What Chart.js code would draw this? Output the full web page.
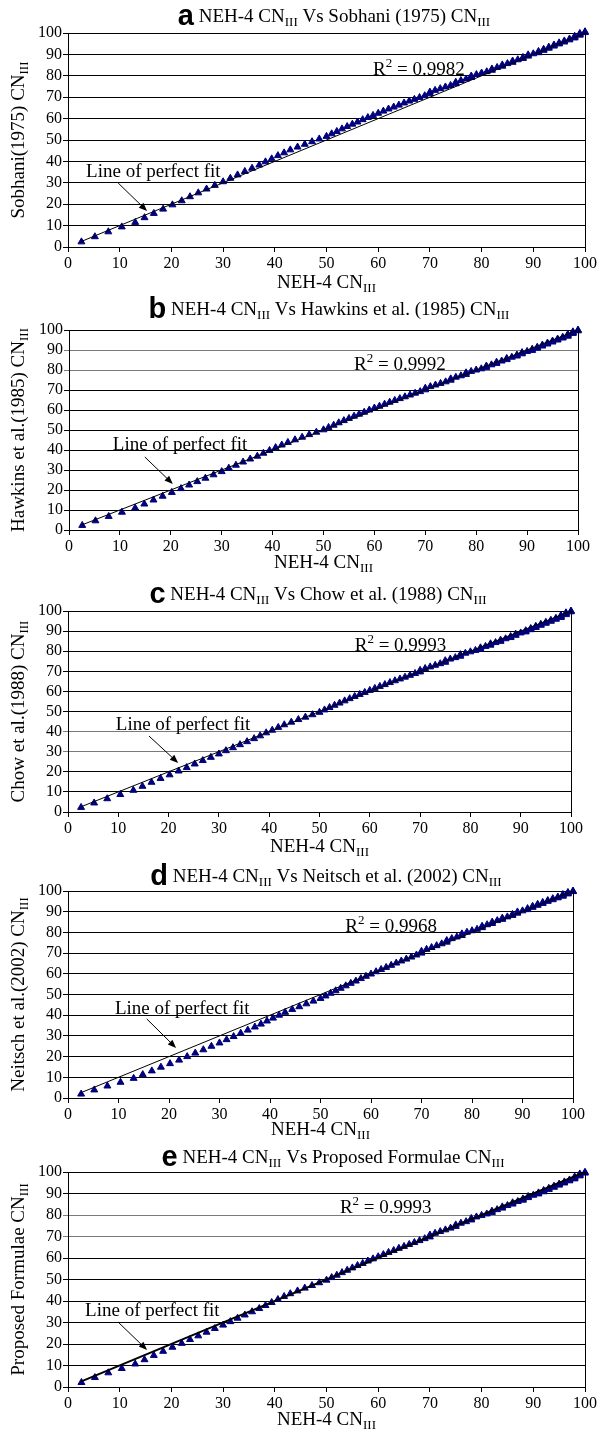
<!DOCTYPE html>
<html>
<head>
<meta charset="utf-8">
<title>NEH-4 CN III comparisons</title>
<script src="https://cdn.jsdelivr.net/npm/chart.js@4.4.0/dist/chart.umd.min.js"></script>
<style>
  html, body { margin: 0; padding: 0; background: #fff; }
  #page { position: relative; width: 605px; height: 1431px; overflow: hidden; }
  canvas { position: absolute; left: 0; }
</style>
</head>
<body>
<div id="page">
  <canvas id="chartA" width="605" height="292" style="top:0px"></canvas>
  <canvas id="chartB" width="605" height="283" style="top:292px"></canvas>
  <canvas id="chartC" width="605" height="283" style="top:575px"></canvas>
  <canvas id="chartD" width="605" height="284" style="top:858px"></canvas>
  <canvas id="chartE" width="605" height="289" style="top:1142px"></canvas>
</div>
<script>
// NEH-4 CN III (x axis of every panel)
const neh4 = [
  2.6, 5.2, 7.8, 10.4, 13, 14.8, 16.6, 18.4, 20.2, 22,
  23.6, 25.2, 26.8, 28.4, 30, 31.4, 32.8, 34.2, 35.6, 37,
  38.2, 39.4, 40.6, 41.8, 43, 44.4, 45.8, 47.2, 48.6, 50,
  51, 52, 53, 54, 55, 56, 57, 58, 59, 60,
  61, 62, 63, 64, 65, 66, 67, 68, 69, 70,
  70, 71, 72, 73, 74, 75, 75, 76, 77, 78,
  78, 79, 80, 81, 82, 82, 83, 84, 84, 85,
  86, 86, 87, 88, 88, 89, 89, 90, 91, 91,
  92, 92, 93, 93, 94, 94, 95, 95, 96, 96,
  97, 97, 98, 98, 98, 99, 99, 99, 100, 100
];

const sobhani = [
  2.4, 4.8, 7.1, 9.4, 11.5, 13.7, 15.7, 17.7, 19.7, 21.6,
  23.5, 25.3, 27.1, 28.8, 30.5, 32.1, 33.7, 35.3, 36.8, 38.3,
  39.8, 41.2, 42.7, 44.0, 45.4, 46.7, 48.0, 49.2, 50.5, 51.7,
  52.9, 54.0, 55.2, 56.3, 57.4, 58.4, 59.5, 60.5, 61.5, 62.5,
  63.5, 64.5, 65.4, 66.3, 67.3, 68.2, 69.0, 69.9, 70.7, 71.6,
  72.4, 73.2, 74.0, 74.8, 75.5, 76.3, 77.0, 77.8, 78.5, 79.2,
  79.9, 80.6, 81.3, 81.9, 82.6, 83.2, 83.9, 84.5, 85.1, 85.7,
  86.3, 86.9, 87.5, 88.1, 88.6, 89.2, 89.8, 90.3, 90.8, 91.4,
  91.9, 92.4, 92.9, 93.4, 93.9, 94.4, 94.9, 95.4, 95.8, 96.3,
  96.8, 97.2, 97.7, 98.1, 98.5, 99.0, 99.4, 99.8, 100.2, 100.6
];

const hawkins = [
  2.3, 4.6, 6.8, 8.9, 11.0, 13.0, 15.0, 16.9, 18.8, 20.7,
  22.5, 24.2, 25.9, 27.6, 29.2, 30.9, 32.4, 34.0, 35.5, 36.9,
  38.4, 39.8, 41.2, 42.5, 43.8, 45.1, 46.4, 47.7, 48.9, 50.1,
  51.3, 52.4, 53.6, 54.7, 55.8, 56.9, 57.9, 58.9, 60.0, 61.0,
  61.9, 62.9, 63.9, 64.8, 65.7, 66.6, 67.5, 68.4, 69.2, 70.1,
  70.9, 71.7, 72.5, 73.3, 74.1, 74.9, 75.6, 76.4, 77.1, 77.8,
  78.6, 79.3, 80.0, 80.6, 81.3, 82.0, 82.6, 83.3, 83.9, 84.5,
  85.2, 85.8, 86.4, 87.0, 87.5, 88.1, 88.7, 89.3, 89.8, 90.4,
  90.9, 91.4, 92.0, 92.5, 93.0, 93.5, 94.0, 94.5, 95.0, 95.5,
  96.0, 96.4, 96.9, 97.4, 97.8, 98.3, 98.7, 99.1, 99.6, 100.0
];

const chow = [
  2.3, 4.5, 6.6, 8.7, 10.8, 12.8, 14.8, 16.7, 18.5, 20.4,
  22.1, 23.9, 25.6, 27.2, 28.9, 30.5, 32.0, 33.5, 35.0, 36.5,
  37.9, 39.4, 40.7, 42.1, 43.4, 44.7, 46.0, 47.2, 48.4, 49.6,
  50.8, 52.0, 53.1, 54.2, 55.3, 56.4, 57.5, 58.5, 59.5, 60.5,
  61.5, 62.5, 63.4, 64.4, 65.3, 66.2, 67.1, 68.0, 68.9, 69.7,
  70.5, 71.4, 72.2, 73.0, 73.8, 74.5, 75.3, 76.1, 76.8, 77.5,
  78.3, 79.0, 79.7, 80.4, 81.0, 81.7, 82.4, 83.0, 83.7, 84.3,
  84.9, 85.5, 86.2, 86.8, 87.3, 87.9, 88.5, 89.1, 89.6, 90.2,
  90.7, 91.3, 91.8, 92.4, 92.9, 93.4, 93.9, 94.4, 94.9, 95.4,
  95.9, 96.4, 96.8, 97.3, 97.8, 98.2, 98.7, 99.1, 99.6, 100.0
];

const neitsch = [
  1.9, 3.9, 5.8, 7.6, 9.5, 11.3, 13.1, 14.9, 16.6, 18.3,
  20.0, 21.7, 23.3, 25.0, 26.6, 28.2, 29.7, 31.3, 32.8, 34.3,
  35.7, 37.2, 38.6, 40.0, 41.4, 42.8, 44.1, 45.5, 46.8, 48.1,
  49.3, 50.6, 51.8, 53.0, 54.2, 55.4, 56.5, 57.7, 58.8, 59.9,
  61.0, 62.1, 63.1, 64.1, 65.2, 66.2, 67.1, 68.1, 69.1, 70.0,
  70.9, 71.8, 72.7, 73.6, 74.5, 75.3, 76.1, 77.0, 77.8, 78.5,
  79.3, 80.1, 80.8, 81.5, 82.3, 83.0, 83.7, 84.3, 85.0, 85.7,
  86.3, 86.9, 87.5, 88.2, 88.7, 89.3, 89.9, 90.4, 91.0, 91.5,
  92.1, 92.6, 93.1, 93.6, 94.0, 94.5, 95.0, 95.4, 95.8, 96.3,
  96.7, 97.1, 97.5, 97.9, 98.3, 98.6, 99.0, 99.3, 99.7, 100.0
];

const proposed = [
  2.1, 4.4, 6.6, 8.6, 10.7, 12.7, 14.7, 16.6, 18.5, 20.3,
  22.1, 23.8, 25.5, 27.2, 28.8, 30.4, 32.0, 33.5, 35.0, 36.5,
  37.9, 39.3, 40.7, 42.1, 43.4, 44.7, 46.0, 47.2, 48.5, 49.7,
  50.9, 52.0, 53.2, 54.3, 55.4, 56.5, 57.5, 58.6, 59.6, 60.6,
  61.6, 62.6, 63.5, 64.5, 65.4, 66.3, 67.2, 68.1, 69.0, 69.8,
  70.7, 71.5, 72.3, 73.1, 73.9, 74.7, 75.4, 76.2, 76.9, 77.7,
  78.4, 79.1, 79.8, 80.5, 81.2, 81.8, 82.5, 83.2, 83.8, 84.4,
  85.1, 85.7, 86.3, 86.9, 87.5, 88.1, 88.6, 89.2, 89.8, 90.3,
  90.8, 91.4, 91.9, 92.4, 92.9, 93.4, 93.9, 94.4, 94.9, 95.4,
  95.9, 96.3, 96.8, 97.3, 97.7, 98.2, 98.6, 99.1, 99.5, 99.9
];

// line of perfect fit runs from the first to the last NEH-4 value
const fitLine = [2.6, 100];
const rSquared = ['0.9982', '0.9992', '0.9993', '0.9968', '0.9993'];

const SERIF = '"Liberation Serif", "Times New Roman", serif';
const SANS = '"Liberation Sans", Arial, sans-serif';

// layout of each panel, page coordinates (px); annotation spots in data units
const panels = [
  { id: 'chartA', top: 0, h: 292, letter: 'a', name: 'Sobhani (1975)', yName: 'Sobhani(1975) CN', y: sobhani,
    left: 68, right: 585, plotTop: 33, plotBottom: 247, titleX: 334, titleY: 17, xLabelY: 283,
    r2At: [59, 80.4], fitAt: [3.5, 32.7], arrow: [[9.7, 29.9], [15.3, 16.8]], fitWidth: 1, grey: [] },
  { id: 'chartB', top: 292, h: 283, letter: 'b', name: 'Hawkins et al. (1985)', yName: 'Hawkins et al.(1985) CN', y: hawkins,
    left: 69, right: 578, plotTop: 330, plotBottom: 530, titleX: 329, titleY: 310, xLabelY: 563,
    r2At: [56, 80], fitAt: [8.6, 40], arrow: [[14.9, 36.5], [20.4, 23]], fitWidth: 1, grey: [80, 90] },
  { id: 'chartC', top: 575, h: 283, letter: 'c', name: 'Chow et al. (1988)', yName: 'Chow et al.(1988) CN', y: chow,
    left: 68, right: 571, plotTop: 611, plotBottom: 812, titleX: 318, titleY: 595, xLabelY: 847,
    r2At: [57, 80.1], fitAt: [9.5, 40.8], arrow: [[16.1, 37.8], [21.9, 24.4]], fitWidth: 1, grey: [30, 40] },
  { id: 'chartD', top: 858, h: 284, letter: 'd', name: 'Neitsch et al. (2002)', yName: 'Neitsch et al.(2002) CN', y: neitsch,
    left: 68, right: 573, plotTop: 891, plotBottom: 1098, titleX: 326, titleY: 877, xLabelY: 1130,
    r2At: [54.9, 80.2], fitAt: [9.3, 40.6], arrow: [[15.6, 38.2], [21.4, 24.2]], fitWidth: 1, grey: [] },
  { id: 'chartE', top: 1142, h: 289, letter: 'e', name: 'Proposed Formulae', yName: 'Proposed Formulae CN', y: proposed,
    left: 68, right: 585, plotTop: 1172, plotBottom: 1387, titleX: 333, titleY: 1158, xLabelY: 1420,
    r2At: [52.6, 80.9], fitAt: [3.3, 33], arrow: [[9.7, 30.2], [15.3, 17.2]], fitWidth: 2, grey: [70, 80] }
];

// text with subscripts/superscripts, parts = [text, kind]
function drawRich(ctx, parts, x, y, size, align) {
  const fontOf = k => k === 'b' ? 'bold 29px ' + SANS
    : (k === 's' || k === 'p') ? Math.round(size * 0.68) + 'px ' + SERIF
    : size + 'px ' + SERIF;
  let total = 0;
  parts.forEach(p => { ctx.font = fontOf(p[1]); total += ctx.measureText(p[0]).width; });
  let cx = align === 'center' ? x - total / 2 : x;
  ctx.textAlign = 'left';
  parts.forEach(p => {
    ctx.font = fontOf(p[1]);
    let dy = p[1] === 's' ? size * 0.28 : p[1] === 'p' ? -size * 0.42 : 0;
    ctx.fillText(p[0], cx, y + dy);
    cx += ctx.measureText(p[0]).width;
  });
}

function drawArrow(ctx, x1, y1, x2, y2) {
  const ang = Math.atan2(y2 - y1, x2 - x1), len = 9;
  ctx.beginPath();
  ctx.moveTo(x1, y1);
  ctx.lineTo(x2 - Math.cos(ang) * 5, y2 - Math.sin(ang) * 5);
  ctx.lineWidth = 1;
  ctx.stroke();
  ctx.beginPath();
  ctx.moveTo(x2, y2);
  ctx.lineTo(x2 - len * Math.cos(ang - 0.38), y2 - len * Math.sin(ang - 0.38));
  ctx.lineTo(x2 - len * Math.cos(ang + 0.38), y2 - len * Math.sin(ang + 0.38));
  ctx.closePath();
  ctx.fill();
}

const panelText = {
  id: 'panelText',
  afterDraw(chart, args, opts) {
    const p = opts.panel, ctx = chart.ctx, a = chart.chartArea;
    const sx = chart.scales.x, sy = chart.scales.y;
    ctx.save();
    ctx.fillStyle = '#000';
    ctx.strokeStyle = '#000';

    // right border of plot area
    ctx.lineWidth = 1;
    ctx.beginPath();
    ctx.moveTo(a.right + 0.5, a.top);
    ctx.lineTo(a.right + 0.5, a.bottom);
    ctx.stroke();

    ctx.textBaseline = 'middle';
    drawRich(ctx, [[p.letter, 'b'], [' NEH-4 CN', 'n'], ['III', 's'], [' Vs ' + p.name + ' CN', 'n'], ['III', 's']],
      p.titleX, p.titleY - p.top, 19, 'center');
    drawRich(ctx, [['NEH-4 CN', 'n'], ['III', 's']], (a.left + a.right) / 2, p.xLabelY - p.top, 19, 'center');

    ctx.save();
    ctx.translate(19, (a.top + a.bottom) / 2);
    ctx.rotate(-Math.PI / 2);
    drawRich(ctx, [[p.yName, 'n'], ['III', 's']], 0, 0, 19, 'center');
    ctx.restore();

    ctx.textBaseline = 'alphabetic';
    drawRich(ctx, [['R', 'n'], ['2', 'p'], [' = ' + p.r2, 'n']],
      sx.getPixelForValue(p.r2At[0]), sy.getPixelForValue(p.r2At[1]), 19, 'left');
    drawRich(ctx, [['Line of perfect fit', 'n']],
      sx.getPixelForValue(p.fitAt[0]), sy.getPixelForValue(p.fitAt[1]), 19, 'left');
    drawArrow(ctx,
      sx.getPixelForValue(p.arrow[0][0]), sy.getPixelForValue(p.arrow[0][1]),
      sx.getPixelForValue(p.arrow[1][0]), sy.getPixelForValue(p.arrow[1][1]));
    ctx.restore();
  }
};

function createPanel(p, i) {
  p.r2 = rSquared[i];
  const points = neh4.map((v, k) => ({ x: v, y: p.y[k] }));
  const fit = fitLine.map(v => ({ x: v, y: v }));
  const tickFont = { family: SERIF, size: 16 };

  return new Chart(document.getElementById(p.id), {
    type: 'scatter',
    data: {
      datasets: [
        { type: 'line', data: fit, borderColor: '#000', borderWidth: p.fitWidth, pointRadius: 0, fill: false },
        { data: points, pointStyle: 'triangle', pointRadius: 4, borderWidth: 1,
          backgroundColor: '#000080', borderColor: '#00007a', clip: false }
      ]
    },
    options: {
      responsive: false,
      animation: false,
      events: [],
      layout: { padding: { top: p.plotTop - p.top, right: 605 - p.right, left: 0, bottom: 0 } },
      plugins: { legend: { display: false }, tooltip: { enabled: false }, panelText: { panel: p } },
      scales: {
        x: {
          type: 'linear', min: 0, max: 100,
          ticks: { stepSize: 10, color: '#000', font: tickFont, padding: 2, maxRotation: 0, autoSkip: false },
          grid: { drawOnChartArea: false, drawTicks: true, tickLength: 5, color: '#000' },
          border: { color: '#000', width: 1 },
          afterFit: s => { s.height = p.top + p.h - p.plotBottom; }
        },
        y: {
          type: 'linear', min: 0, max: 100,
          ticks: { stepSize: 10, color: '#000', font: tickFont, padding: 1, autoSkip: false },
          grid: {
            tickLength: 5, lineWidth: 1,
            color: c => p.grey.includes(c.tick && c.tick.value) ? '#7a7a7a' : '#000'
          },
          border: { color: '#000', width: 1 },
          afterFit: s => { s.width = p.left; }
        }
      }
    },
    plugins: [panelText]
  });
}

document.addEventListener('DOMContentLoaded', function () {
  panels.forEach(createPanel);
});
</script>
</body>
</html>
